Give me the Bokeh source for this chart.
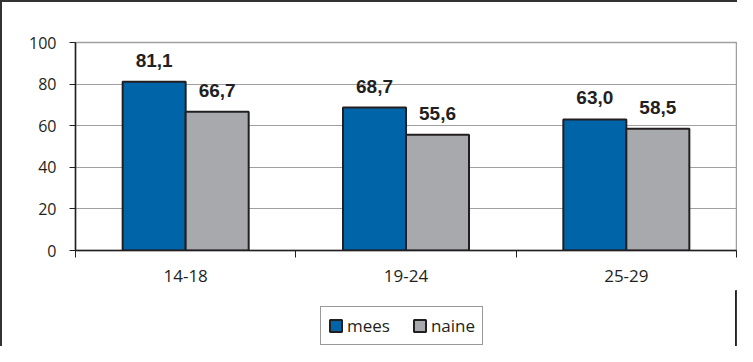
from bokeh.plotting import figure
from bokeh.layouts import column
from bokeh.models import ColumnDataSource, FixedTicker, Legend, LegendItem, Range1d, LabelSet
from bokeh.embed import file_html
from bokeh.resources import INLINE
from bokeh.core.properties import value

categories = ["14-18", "19-24", "25-29"]
mees = [81.1, 68.7, 63.0]
naine = [66.7, 55.6, 58.5]
y_ticks = [0, 20, 40, 60, 80, 100]
series_names = ["mees", "naine"]

BLUE = "#0064A8"
GRAY = "#A7A9AC"
DARK = "#231F20"

def fmt(v):
    return f"{v:.1f}".replace(".", ",")

xc = [i + 0.5 for i in range(len(categories))]
off = 0.143
w = 0.286
src_m = ColumnDataSource(dict(x=[c - off for c in xc], top=mees, lab=[fmt(v) for v in mees]))
src_n = ColumnDataSource(dict(x=[c + off for c in xc], top=naine, lab=[fmt(v) for v in naine]))

p = figure(width=735, height=288, output_backend="svg", toolbar_location=None,
           x_range=Range1d(0, len(categories)), y_range=Range1d(0, 100),
           min_border_left=73, min_border_right=1, min_border_top=40, min_border_bottom=40)

p.outline_line_color = "#A0A0A0"
p.outline_line_width = 1.5
p.xgrid.visible = False
p.ygrid.grid_line_color = "#A0A0A0"
p.ygrid.grid_line_width = 1
p.ygrid.ticker = FixedTicker(ticks=y_ticks)

p.vbar(x="x", top="top", width=w, source=src_m, fill_color=BLUE, line_color=DARK, line_width=2)
p.vbar(x="x", top="top", width=w, source=src_n, fill_color=GRAY, line_color=DARK, line_width=2)

for src in (src_m, src_n):
    p.add_layout(LabelSet(x="x", y="top", text="lab", source=src, y_offset=15,
                          text_align="center", text_baseline="alphabetic",
                          text_font=value("Liberation Sans"), text_font_style="bold",
                          text_font_size="19px", text_color=DARK))

p.yaxis.ticker = FixedTicker(ticks=y_ticks)
p.yaxis.axis_line_color = DARK
p.yaxis.axis_line_width = 1.5
p.yaxis.major_tick_line_color = DARK
p.yaxis.major_tick_out = 6
p.yaxis.major_tick_in = 0
p.yaxis.minor_tick_line_color = None
p.yaxis.major_label_text_font = "Open Sans"
p.yaxis.major_label_text_font_size = "16px"
p.yaxis.major_label_text_color = DARK
p.yaxis.major_label_standoff = 13

p.xaxis.ticker = FixedTicker(ticks=xc, minor_ticks=list(range(len(categories) + 1)))
p.xaxis.major_label_overrides = {c: lab for c, lab in zip(xc, categories)}
p.xaxis.axis_line_color = DARK
p.xaxis.axis_line_width = 1.5
p.xaxis.major_tick_line_color = None
p.xaxis.minor_tick_line_color = DARK
p.xaxis.minor_tick_out = 7
p.xaxis.minor_tick_in = 0
p.xaxis.major_label_text_font = "Open Sans"
p.xaxis.major_label_text_font_size = "17px"
p.xaxis.major_label_text_color = DARK
p.xaxis.major_label_standoff = 12

# legend strip below the chart (same series, drawn out of view; only the legend shows)
pl = figure(width=735, height=56, output_backend="svg", toolbar_location=None,
            x_range=Range1d(-2, -1), y_range=Range1d(0, 1),
            x_axis_type=None, y_axis_type=None,
            min_border_left=73, min_border_right=1, min_border_top=0, min_border_bottom=0)
pl.outline_line_color = None
pl.xgrid.visible = False
pl.ygrid.visible = False
lm = pl.vbar(x="x", top="top", width=w, source=src_m, fill_color=BLUE, line_color=DARK, line_width=2)
ln = pl.vbar(x="x", top="top", width=w, source=src_n, fill_color=GRAY, line_color=DARK, line_width=2)

legend = Legend(items=[LegendItem(label=series_names[0], renderers=[lm], index=0),
                       LegendItem(label=series_names[1], renderers=[ln], index=0)],
                orientation="horizontal", location=(245, 1),
                label_text_font="Open Sans", label_text_font_size="17px", label_text_color=DARK,
                glyph_width=15, glyph_height=15, label_standoff=4, spacing=22,
                padding=7, margin=0, border_line_color="#333333", border_line_width=1)
pl.add_layout(legend, "center")

layout = column(p, pl, spacing=0,
                styles={"border-left": "2px solid #333333", "border-top": "2px solid #333333"})

open("out.html", "w").write(file_html(layout, INLINE))
